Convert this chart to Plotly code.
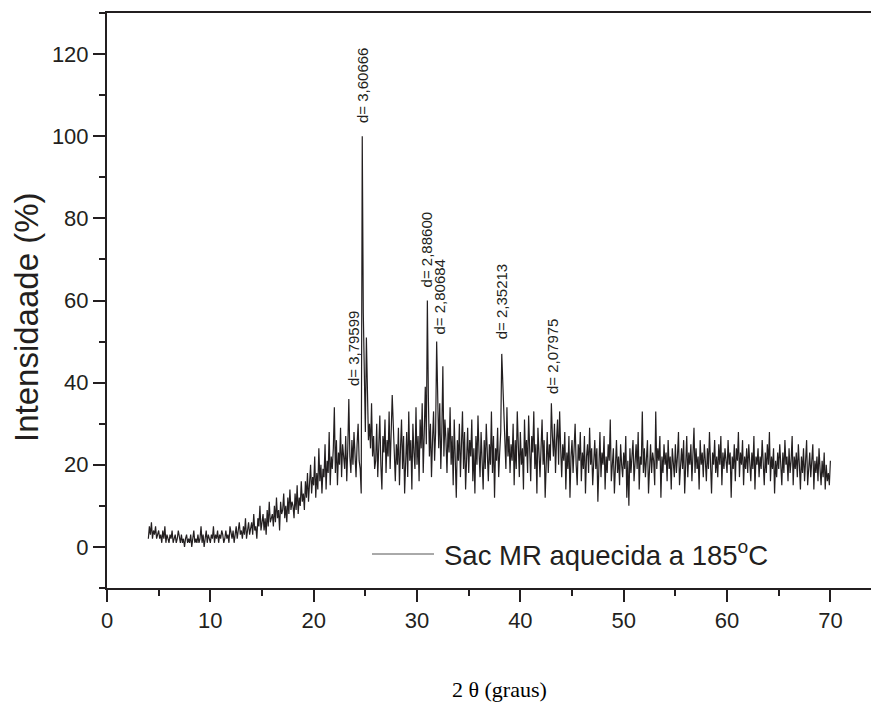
import plotly.graph_objects as go

# XRD scan of Sac MR heated to 185 °C, 2θ from 4.0° to 70.0° in 0.1° steps
start_2theta = 4.0
step_2theta = 0.1

intensity = [
    2, 5, 3, 6, 2, 4, 3, 5, 2, 3,            # 4.x
    4, 2, 3, 1, 4, 2, 5, 1, 3, 2,            # 5.x
    1, 3, 2, 4, 1, 2, 3, 1, 2, 4,            # 6.x
    2, 1, 3, 1, 2, 0, 2, 3, 1, 2,            # 7.x
    1, 3, 0, 2, 4, 1, 2, 1, 3, 1,            # 8.x
    2, 5, 1, 3, 0, 2, 4, 1, 3, 2,            # 9.x
    1, 3, 2, 5, 1, 3, 2, 4, 1, 3,            # 10.x
    2, 4, 3, 1, 2, 4, 2, 3, 1, 5,            # 11.x
    3, 2, 4, 1, 3, 5, 2, 4, 6, 3,            # 12.x
    4, 2, 5, 3, 7, 2, 4, 6, 3, 5,            # 13.x
    6, 3, 8, 4, 5, 2, 7, 5, 10, 4,           # 14.x
    6, 8, 4, 7, 3, 9, 5, 11, 6, 7,           # 15.x
    8, 5, 10, 6, 12, 7, 9, 4, 11, 8,         # 16.x
    9, 13, 7, 10, 6, 12, 8, 14, 9, 11,       # 17.x
    10, 7, 13, 9, 15, 8, 12, 10, 16, 11,     # 18.x
    13, 9, 16, 12, 18, 11, 15, 20, 13, 17,   # 19.x
    15, 22, 12, 18, 14, 24, 16, 20, 13, 19,  # 20.x
    17, 25, 14, 21, 18, 28, 15, 22, 19, 24,  # 21.x
    34, 18, 26, 15, 23, 20, 29, 17, 25, 21,  # 22.x
    19, 27, 16, 24, 36, 22, 18, 26, 20, 28,  # 23.x
    22, 17, 25, 30, 21, 19, 13, 100, 57, 35, # 24.x
    28, 51, 33, 26, 30, 24, 35, 22, 27, 19,  # 25.x
    21, 30, 17, 25, 32, 20, 14, 27, 23, 31,  # 26.x
    18, 26, 22, 33, 19, 28, 37, 30, 24, 16,  # 27.x
    25, 20, 29, 15, 24, 31, 19, 27, 13, 22,  # 28.x
    28, 17, 33, 21, 26, 14, 30, 23, 19, 34,  # 29.x
    20, 27, 16, 31, 24, 35, 18, 28, 39, 25,  # 30.x
    60, 36, 22, 30, 17, 26, 33, 21, 28, 50,  # 31.x
    30, 24, 35, 19, 28, 44, 22, 31, 26, 18,  # 32.x
    29, 23, 34, 20, 27, 15, 31, 24, 12, 26,  # 33.x
    21, 30, 17, 25, 33, 19, 28, 14, 23, 29,  # 34.x
    18, 26, 22, 31, 16, 24, 13, 27, 20, 32,  # 35.x
    23, 17, 28, 21, 14, 26, 19, 30, 22, 16,  # 36.x
    25, 20, 33, 18, 27, 12, 24, 21, 29, 17,  # 37.x
    23, 28, 47, 40, 31, 26, 19, 34, 22, 27,  # 38.x
    18, 25, 21, 30, 15, 26, 19, 33, 23, 17,  # 39.x
    28, 20, 24, 14, 31, 22, 26, 18, 32, 21,  # 40.x
    16, 27, 23, 33, 19, 25, 13, 29, 22, 17,  # 41.x
    24, 31, 20, 26, 12, 23, 28, 18, 25, 21,  # 42.x
    35, 27, 22, 30, 18, 26, 31, 20, 33, 24,  # 43.x
    17, 25, 21, 28, 14, 23, 19, 27, 12, 22,  # 44.x
    26, 18, 24, 30, 20, 15, 25, 21, 28, 16,  # 45.x
    23, 19, 27, 13, 22, 25, 18, 29, 20, 24,  # 46.x
    15, 21, 26, 19, 24, 11, 22, 28, 17, 23,  # 47.x
    20, 27, 14, 22, 18, 25, 21, 31, 16, 19,  # 48.x
    24, 13, 21, 26, 18, 22, 15, 25, 20, 17,  # 49.x
    23, 19, 27, 12, 21, 10, 24, 18, 22, 26,  # 50.x
    16, 21, 25, 19, 28, 14, 22, 20, 33, 18,  # 51.x
    24, 17, 22, 26, 13, 20, 25, 18, 23, 21,  # 52.x
    15, 33, 19, 24, 21, 27, 12, 22, 18, 25,  # 53.x
    20, 23, 16, 26, 19, 22, 14, 24, 21, 17,  # 54.x
    25, 18, 22, 28, 15, 21, 24, 19, 26, 13,  # 55.x
    22, 27, 17, 23, 20, 25, 16, 21, 29, 18,  # 56.x
    24, 19, 22, 14, 26, 20, 23, 17, 25, 21,  # 57.x
    16, 24, 19, 28, 21, 13, 23, 20, 26, 18,  # 58.x
    22, 17, 25, 20, 27, 15, 23, 19, 24, 21,  # 59.x
    18, 26, 20, 23, 12, 22, 19, 25, 16, 24,  # 60.x
    21, 28, 17, 23, 20, 26, 15, 22, 19, 24,  # 61.x
    18, 25, 21, 16, 23, 19, 27, 14, 22, 20,  # 62.x
    24, 17, 22, 19, 26, 21, 15, 23, 18, 25,  # 63.x
    20, 28, 16, 22, 19, 24, 13, 21, 17, 23,  # 64.x
    19, 25, 21, 15, 23, 18, 26, 20, 22, 16,  # 65.x
    24, 18, 21, 27, 15, 22, 19, 23, 17, 25,  # 66.x
    20, 14, 22, 18, 24, 16, 21, 26, 15, 19,  # 67.x
    23, 17, 20, 25, 14, 21, 18, 22, 16, 24,  # 68.x
    19, 15, 21, 17, 23, 14, 20, 16, 18, 15,  # 69.x
    21,                                      # 70.0
]
two_theta = [round(start_2theta + step_2theta * i, 2) for i in range(len(intensity))]

# interplanar spacings labelled above the main reflections
peak_labels = ["d= 3,60666", "d= 3,79599", "d= 2,88600", "d= 2,80684", "d= 2,35213", "d= 2,07975"]
label_x = [24.75, 23.8, 30.95, 32.14, 38.18, 43.17]
label_y = [112.4, 48.4, 72.4, 61.0, 59.7, 46.5]

series_name = "Sac MR aquecida a 185<sup>o</sup>C"
x_title = "2 θ (graus)"
y_title = "Intensidaade (%)"

ink = "#231f20"
sans = "Liberation Sans, Arial, sans-serif"
serif = "Liberation Serif, Times New Roman, serif"

fig = go.Figure()
fig.add_trace(go.Scatter(
    x=two_theta, y=intensity, mode="lines",
    line=dict(color=ink, width=1.2), showlegend=False,
))

for txt, lx, ly in zip(peak_labels, label_x, label_y):
    fig.add_annotation(x=lx, y=ly, xref="x", yref="y", text=txt, showarrow=False,
                       textangle=-90, font=dict(family=sans, size=15, color=ink),
                       xanchor="center", yanchor="middle")

# hand-drawn legend entry: sample line plus label
fig.add_shape(type="line", xref="paper", yref="paper",
              x0=(372 - 107) / 764, x1=(434 - 107) / 764,
              y0=(588 - 554) / 575, y1=(588 - 554) / 575,
              line=dict(color="#555555", width=1))
fig.add_annotation(xref="paper", yref="paper", x=(442 - 107) / 764, y=(588 - 553) / 575,
                   text=series_name, showarrow=False, xanchor="left", yanchor="middle",
                   font=dict(family=sans, size=27.5, color=ink))

fig.add_annotation(xref="paper", yref="paper", x=(499 - 107) / 764, y=(588 - 689) / 575,
                   text=x_title, showarrow=False, xanchor="center", yanchor="middle",
                   font=dict(family=serif, size=22, color="#000000"))
fig.add_annotation(xref="paper", yref="paper", x=(26 - 107) / 764, y=(588 - 318) / 575,
                   text=y_title, showarrow=False, textangle=-90, xanchor="center",
                   yanchor="middle", font=dict(family=sans, size=33, color=ink))

axis_common = dict(showgrid=False, zeroline=False, showline=True, linecolor=ink,
                   linewidth=2, ticks="outside", ticklen=12, tickwidth=2, tickcolor=ink,
                   tickfont=dict(family=sans, size=22, color=ink))

fig.update_layout(
    width=871, height=704,
    margin=dict(l=107, r=0, t=13, b=116),
    paper_bgcolor="white", plot_bgcolor="white",
    showlegend=False,
    xaxis=dict(range=[0, 73.93], dtick=10, tick0=0, mirror=True,
               minor=dict(dtick=5, ticklen=6, tickwidth=2, tickcolor=ink, ticks="outside"),
               **axis_common),
    yaxis=dict(range=[-10, 130], dtick=20, tick0=0,
               minor=dict(dtick=10, ticklen=6, tickwidth=2, tickcolor=ink, ticks="outside"),
               **axis_common),
    xaxis2=dict(overlaying="x", side="top", range=[0, 73.93], dtick=5, tick0=0,
                showgrid=False, zeroline=False, showline=False, ticks="inside",
                ticklen=3, tickwidth=2, tickcolor=ink, showticklabels=False),
)

fig.write_html("out.html")
